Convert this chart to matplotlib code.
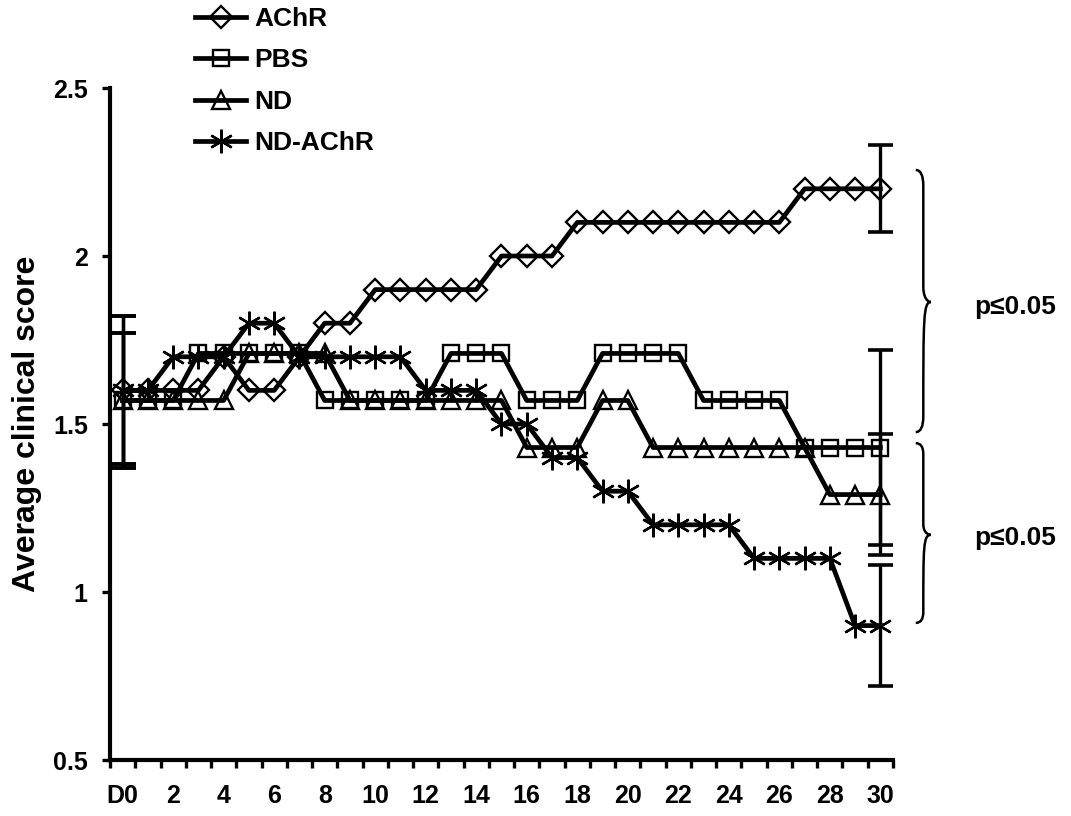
import matplotlib
matplotlib.use("Agg")
import matplotlib.pyplot as plt
from matplotlib.path import Path
from matplotlib.patches import PathPatch
import numpy as np

plt.rcParams['font.family'] = ['Liberation Sans', 'DejaVu Sans']
plt.rcParams['font.weight'] = 'bold'

days = list(range(31))
tick_labels = ['D0'] + [str(d) for d in range(2, 31, 2)]

achr = [1.6, 1.6, 1.6, 1.6, 1.7, 1.6, 1.6, 1.7, 1.8, 1.8, 1.9, 1.9, 1.9, 1.9, 1.9, 2.0,
        2.0, 2.0, 2.1, 2.1, 2.1, 2.1, 2.1, 2.1, 2.1, 2.1, 2.1, 2.2, 2.2, 2.2, 2.2]
pbs = [1.57, 1.57, 1.57, 1.71, 1.71, 1.71, 1.71, 1.71, 1.57, 1.57, 1.57, 1.57, 1.57, 1.71, 1.71, 1.71,
       1.57, 1.57, 1.57, 1.71, 1.71, 1.71, 1.71, 1.57, 1.57, 1.57, 1.57, 1.43, 1.43, 1.43, 1.43]
nd = [1.57, 1.57, 1.57, 1.57, 1.57, 1.71, 1.71, 1.71, 1.71, 1.57, 1.57, 1.57, 1.57, 1.57, 1.57, 1.57,
      1.43, 1.43, 1.43, 1.57, 1.57, 1.43, 1.43, 1.43, 1.43, 1.43, 1.43, 1.43, 1.29, 1.29, 1.29]
nd_achr = [1.6, 1.6, 1.7, 1.7, 1.7, 1.8, 1.8, 1.7, 1.7, 1.7, 1.7, 1.7, 1.6, 1.6, 1.6, 1.5,
           1.5, 1.4, 1.4, 1.3, 1.3, 1.2, 1.2, 1.2, 1.2, 1.1, 1.1, 1.1, 1.1, 0.9, 0.9]

series_names = ['AChR', 'PBS', 'ND', 'ND-AChR']
series_values = [achr, pbs, nd, nd_achr]
series_markers = ['D', 's', '^', (6, 2, 0)]
series_msize = [11, 12, 13, 17]

# error bars at D0 and day 30 (per series)
err_days = [0, 30]
err_achr = [0.22, 0.13]
err_pbs = [0.20, 0.29]
err_nd = [0.20, 0.18]
err_nd_achr = [0.22, 0.18]
series_err = [err_achr, err_pbs, err_nd, err_nd_achr]

p_text = 'p≤0.05'

fig = plt.figure(figsize=(10.71, 8.16), dpi=100)
ax = fig.add_axes([110 / 1071, 1 - 760 / 816, (893 - 110) / 1071, (760 - 88) / 816])

handles = []
for name, vals, mk, ms, errs in zip(series_names, series_values, series_markers,
                                    series_msize, series_err):
    h, = ax.plot(days, vals, color='black', lw=3.4, marker=mk, ms=ms,
                 mfc='none', mec='black', mew=1.7, label=name, zorder=3)
    handles.append(h)
    ax.errorbar(err_days, [vals[d] for d in err_days], yerr=errs, fmt='none',
                ecolor='black', elinewidth=2.4, capsize=9, capthick=2.6, zorder=4)

ax.set_xlim(-0.5, 30.5)
ax.set_ylim(0.5, 2.5)
ax.spines['top'].set_visible(False)
ax.spines['right'].set_visible(False)
ax.spines['left'].set_linewidth(3)
ax.spines['bottom'].set_linewidth(3)

ax.set_xticks(np.arange(-0.5, 31, 1))
ax.set_xticklabels([])
ax.set_xticks(days[::2], minor=True)
ax.set_xticklabels(tick_labels, minor=True, fontsize=18, fontweight='bold')
ax.tick_params(axis='x', which='major', direction='out', length=6, width=2.4)
ax.tick_params(axis='x', which='minor', length=0, pad=17)

ax.set_yticks([0.5, 1, 1.5, 2, 2.5])
ax.set_yticklabels(['0.5', '1', '1.5', '2', '2.5'], fontsize=18, fontweight='bold')
ax.tick_params(axis='y', direction='out', length=6, width=2.4, pad=10)

ax.set_ylabel('Average clinical score', fontsize=23, fontweight='bold', labelpad=8)


def brace(ax, x0, xm, x1, ytop, ybot, ymid):
    r = (ytop - ybot) * 0.06
    verts = [(x0, ytop), (xm, ytop), (xm, ytop - r),
             (xm, ymid + r),
             (xm, ymid), (x1, ymid), (x1, ymid),
             (xm, ymid), (xm, ymid - r),
             (xm, ybot + r),
             (xm, ybot), (x0, ybot)]
    codes = [Path.MOVETO, Path.CURVE3, Path.CURVE3,
             Path.LINETO,
             Path.CURVE4, Path.CURVE4, Path.CURVE4,
             Path.CURVE4, Path.CURVE4, Path.CURVE4,
             Path.CURVE3, Path.CURVE3]
    ax.add_patch(PathPatch(Path(verts, codes), fc='none', ec='black', lw=1.8,
                           clip_on=False))


brace(ax, 31.4, 31.7, 32.0, 2.256, 1.476, 1.863)
brace(ax, 31.4, 31.7, 32.0, 1.443, 0.908, 1.17)
ax.text(33.7, 1.848, p_text, fontsize=19, fontweight='bold', va='center', ha='left',
        clip_on=False)
ax.text(33.7, 1.16, p_text, fontsize=19, fontweight='bold', va='center', ha='left',
        clip_on=False)

leg = fig.legend(handles=handles, loc='upper left', bbox_to_anchor=(195 / 1071, 1 - 7 / 816),
                 frameon=False, handlelength=1.95, handletextpad=0.3,
                 labelspacing=0.66, borderpad=0, borderaxespad=0,
                 prop={'weight': 'bold', 'size': 19})

fig.savefig('out.png', dpi=100)
